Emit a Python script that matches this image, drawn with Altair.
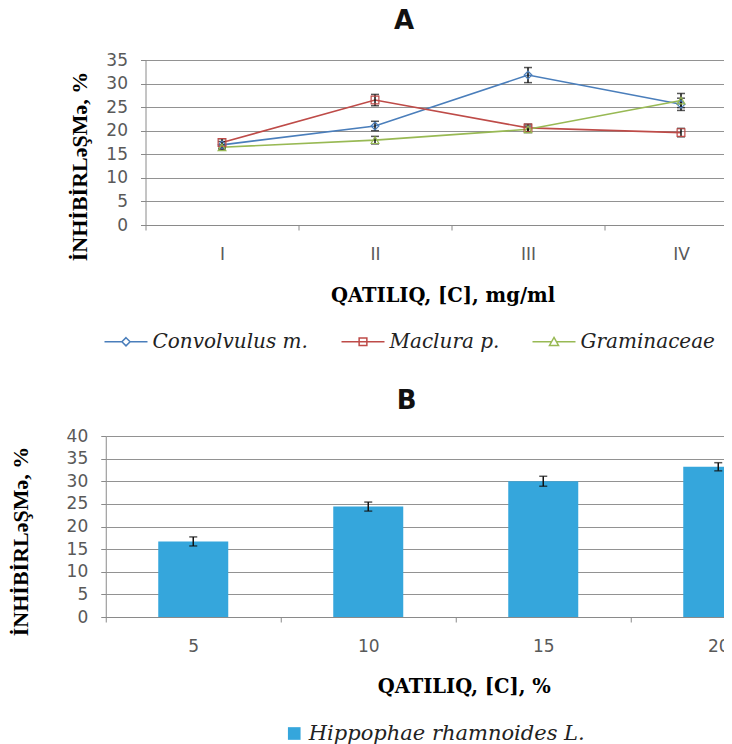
import altair as alt
import pandas as pd

# ---------------- data ----------------
conc_a = ["I", "II", "III", "IV"]
series_names = ["Convolvulus m.", "Maclura p.", "Graminaceae"]
conv_vals = [17.0, 21.0, 31.8, 25.6]
conv_err = [0.7, 1.0, 1.6, 1.3]
macl_vals = [17.5, 26.5, 20.6, 19.6]
macl_err = [0.8, 1.2, 0.8, 0.9]
gram_vals = [16.5, 18.0, 20.3, 26.4]
gram_err = [0.5, 0.8, 0.7, 1.5]

conc_b = ["5", "10", "15", "20"]
species_b = ["Hippophae rhamnoides L."]
hipp_vals = [16.7, 24.4, 30.0, 33.2]
hipp_err = [1.0, 1.0, 1.1, 0.9]

ticks_a = [0, 5, 10, 15, 20, 25, 30, 35]
ticks_b = [0, 5, 10, 15, 20, 25, 30, 35, 40]

# ---------------- tables ----------------
rows = []
for name, vals, errs in zip(series_names, [conv_vals, macl_vals, gram_vals],
                            [conv_err, macl_err, gram_err]):
    for c, v, e in zip(conc_a, vals, errs):
        rows.append({"conc": c, "series": name, "value": v, "lo": v - e, "hi": v + e})
df_a = pd.DataFrame(rows)

df_b = pd.DataFrame({
    "conc": conc_b,
    "species": species_b * len(conc_b),
    "value": hipp_vals,
    "lo": [v - e for v, e in zip(hipp_vals, hipp_err)],
    "hi": [v + e for v, e in zip(hipp_vals, hipp_err)],
})

# ---------------- styles ----------------
colors = ["#4A7EBB", "#BE4B48", "#98B954"]
marker_shapes = ["diamond", "square", "triangle-up"]
legend_paths = [
    "M-1,0L-0.19,0M0.19,0L1,0M0,-0.19L0.19,0L0,0.19L-0.19,0Z",
    "M-1,0L1,0M-0.18,-0.18L0.18,-0.18L0.18,0.18L-0.18,0.18Z",
    "M-1,0L-0.12,0M0.12,0L1,0M0,-0.2L0.21,0.17L-0.21,0.17Z",
]
bar_color = "#35A6DC"
grid_col = "#929292"
axis_col = "#8a8a8a"
lab_col = "#595959"
WA, HA = 621, 165
WB, HB = 700, 181

y_title = "İNHİBİRLəŞMə, %"


def y_axis(vals, tx, ty):
    return alt.Axis(values=vals, tickCount=len(vals), title=y_title,
                    titleFont="Liberation Serif",
                    titleFontSize=22, titleFontWeight="bold", titleColor="black",
                    titleX=tx, titleY=ty, titleAngle=270, titleBaseline="middle",
                    titleAlign="center", labelOverlap=False,
                    labelFont="DejaVu Sans", labelFontSize=17, labelColor=lab_col,
                    labelPadding=13, tickSize=5, tickColor=axis_col, domainColor=axis_col,
                    grid=True, gridColor=grid_col, gridWidth=1)


def x_axis(title, tx, ty):
    return alt.Axis(title=title, labelAngle=0, tickBand="extent", tickSize=5,
                    tickColor=axis_col, domainColor=axis_col, grid=False,
                    labelOverlap=False,
                    labelFont="DejaVu Sans", labelFontSize=17, labelColor=lab_col,
                    labelPadding=16, titleFont="DejaVu Serif", titleFontSize=19.5,
                    titleFontWeight="bold", titleColor="black", titleX=tx, titleY=ty,
                    titleBaseline="top", titleAlign="center")


# ---------------- chart A ----------------
axA = y_axis(ticks_a, -66, 106)
scA = alt.Scale(domain=[0, 35], nice=False)
xA = alt.X("conc:N", sort=conc_a,
           scale=alt.Scale(paddingInner=0, paddingOuter=0.0294, align=0),
           axis=x_axis("QATILIQ, [C], mg/ml", 297, 61))
yA = alt.Y("value:Q", scale=scA, axis=axA)
loA = alt.Y("lo:Q", scale=scA, axis=axA)
hiA = alt.Y("hi:Q", scale=scA, axis=axA)
baseA = alt.Chart(df_a)

layersA = []
for name, col in zip(series_names, colors):
    layersA.append(baseA.transform_filter(alt.datum.series == name)
                   .mark_line(color=col, strokeWidth=1.6).encode(x=xA, y=yA))
layersA.append(baseA.mark_rule(color="#111", strokeWidth=1.5)
               .encode(x=xA, y=loA, y2="hi:Q"))
layersA.append(baseA.mark_tick(color="#111", size=8, thickness=1.5).encode(x=xA, y=loA))
layersA.append(baseA.mark_tick(color="#111", size=8, thickness=1.5).encode(x=xA, y=hiA))
for name, col, shp in zip(series_names, colors, marker_shapes):
    layersA.append(baseA.transform_filter(alt.datum.series == name)
                   .mark_point(shape=shp, size=60, filled=False, color=col,
                               strokeWidth=1.2, opacity=1).encode(x=xA, y=yA))

legA = alt.Legend(title=None, orient="none", direction="horizontal",
                  legendX=-42, legendY=259, symbolSize=1849, symbolStrokeWidth=1.5,
                  symbolOpacity=1, labelFont="DejaVu Serif", labelFontStyle="italic",
                  labelFontSize=20, labelColor="#222", labelOffset=4,
                  columnPadding=30, labelLimit=400)
layersA.append(baseA.mark_point(size=0, filled=False, strokeWidth=1.5).encode(
    x=xA, y=yA,
    color=alt.Color("series:N", scale=alt.Scale(domain=series_names, range=colors), legend=legA),
    shape=alt.Shape("series:N", scale=alt.Scale(domain=series_names, range=legend_paths), legend=legA),
))

chartA = alt.layer(*layersA).properties(
    width=WA, height=HA,
    title=alt.TitleParams("A", font="DejaVu Sans", fontSize=26, fontWeight="bold",
                          color="#111", anchor="middle", dx=-52, offset=17),
)

# ---------------- chart B ----------------
axB = y_axis(ticks_b, -85.6, 105)
scB = alt.Scale(domain=[0, 40], nice=False)
xB = alt.X("conc:N", sort=conc_b, scale=alt.Scale(paddingInner=0, paddingOuter=0),
           axis=x_axis("QATILIQ, [C], %", 358, 60))
yB = alt.Y("value:Q", scale=scB, axis=axB)
loB = alt.Y("lo:Q", scale=scB, axis=axB)
hiB = alt.Y("hi:Q", scale=scB, axis=axB)
baseB = alt.Chart(df_b)

legB = alt.Legend(title=None, orient="none", legendX=178, legendY=287,
                  symbolType="square", symbolSize=160, labelFont="DejaVu Serif",
                  labelFontStyle="italic", labelFontSize=21, labelColor="#222",
                  labelOffset=4, labelLimit=500)
barsB = baseB.mark_bar(width=alt.RelativeBandSize(0.4)).encode(
    x=xB, y=yB,
    fill=alt.Fill("species:N", scale=alt.Scale(domain=species_b, range=[bar_color]), legend=legB),
)
ruleB = baseB.mark_rule(color="#111", strokeWidth=1.5).encode(x=xB, y=loB, y2="hi:Q")
capLoB = baseB.mark_tick(color="#111", size=8, thickness=1.5).encode(x=xB, y=loB)
capHiB = baseB.mark_tick(color="#111", size=8, thickness=1.5).encode(x=xB, y=hiB)

chartB = alt.layer(barsB, ruleB, capLoB, capHiB).properties(
    width=WB, height=HB,
    title=alt.TitleParams("B", font="DejaVu Sans", fontSize=26, fontWeight="bold",
                          color="#111", anchor="middle", dx=-49, offset=13),
)

chart = alt.vconcat(chartA, chartB, spacing=36, center=True).resolve_scale(
    color="independent", shape="independent", fill="independent"
).resolve_legend(
    color="independent", shape="independent", fill="independent"
).properties(
    padding={"left": 0.5, "top": 0, "right": -83, "bottom": 0},
    background="white",
).configure_view(stroke=None)

chart.save("out.html", embed_options={"renderer": "svg", "actions": False})
